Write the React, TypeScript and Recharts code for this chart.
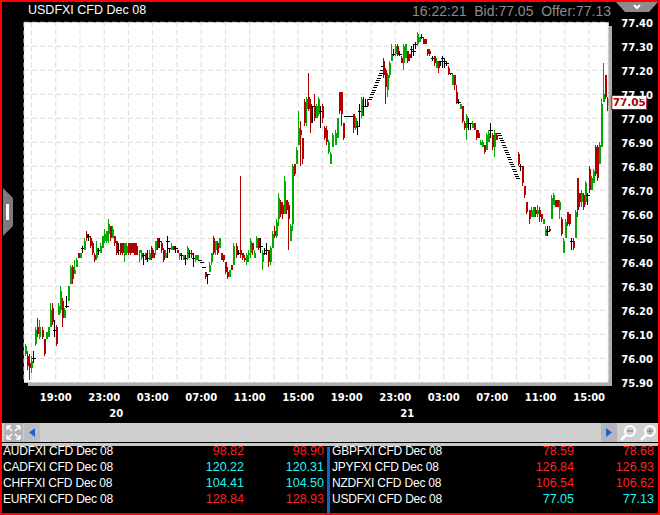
import React from 'react';
import { ComposedChart, Bar, XAxis, YAxis, CartesianGrid, ReferenceDot } from 'recharts';

// one slot = 10 minutes, counted from midnight of the 19th
type Ohlc = [number, number, number, number] | null;
const d = (p: number): Ohlc => [p, p, p, p];

const bars1620: Ohlc[] = [
  [76.02,76.06,76.01,76.05],[76.01,76.03,75.95,75.97],[75.98,76.02,75.91,75.96],[75.96,76.01,75.94,75.99],[76.00,76.03,75.98,76.00],
  [76.06,76.13,76.05,76.12],[76.13,76.17,76.09,76.10],[76.09,76.16,76.08,76.13],[76.12,76.13,76.08,76.09],[76.08,76.08,76.01,76.02],
  [76.08,76.11,76.08,76.11],[76.09,76.13,76.09,76.13],[76.13,76.23,76.13,76.20],[76.21,76.23,76.14,76.15],[76.12,76.16,76.09,76.12],
];
const bars1900: Ohlc[] = [
  [76.13,76.14,76.05,76.06],[76.18,76.23,76.18,76.22],[76.20,76.30,76.19,76.28],[76.24,76.25,76.13,76.17],[76.17,76.21,76.17,76.20],
  [76.22,76.26,76.21,76.22],[76.24,76.30,76.24,76.30],[76.31,76.39,76.31,76.38],[76.38,76.39,76.31,76.33],[76.35,76.41,76.35,76.37],
  [76.38,76.42,76.38,76.41],[76.44,76.44,76.42,76.42],[76.42,76.44,76.42,76.44],[76.46,76.47,76.44,76.46],[76.45,76.50,76.45,76.49],
  [76.52,76.53,76.49,76.50],[76.51,76.52,76.49,76.51],[76.50,76.51,76.46,76.47],[76.48,76.49,76.43,76.44],[76.43,76.44,76.40,76.41],
  [76.42,76.49,76.41,76.46],[76.45,76.46,76.43,76.45],[76.44,76.48,76.44,76.47],[76.46,76.51,76.46,76.51],
];
const bars2300: Ohlc[] = [
  [76.49,76.54,76.48,76.52],[76.49,76.53,76.48,76.53],[76.52,76.58,76.48,76.56],[76.55,76.55,76.49,76.50],[76.50,76.55,76.50,76.54],
  [76.51,76.51,76.47,76.48],[76.49,76.49,76.43,76.44],[76.45,76.48,76.43,76.45],[76.48,76.48,76.43,76.44],[76.48,76.48,76.43,76.44],
  [76.43,76.48,76.40,76.48],[76.44,76.48,76.43,76.47],[76.48,76.48,76.43,76.44],[76.48,76.48,76.43,76.44],[76.48,76.48,76.44,76.44],
  [76.48,76.48,76.43,76.43],[76.47,76.48,76.43,76.43],[76.44,76.45,76.40,76.45],[76.42,76.45,76.41,76.44],[76.43,76.44,76.39,76.43],
  [76.44,76.44,76.41,76.41],[76.42,76.45,76.40,76.42],[76.41,76.45,76.41,76.44],[76.46,76.47,76.41,76.42],
];
const bars0300: Ohlc[] = [
  [76.44,76.45,76.42,76.42],[76.45,76.49,76.43,76.49],[76.50,76.50,76.45,76.46],[76.49,76.50,76.46,76.49],[76.48,76.49,76.44,76.45],
  [76.45,76.46,76.40,76.41],[76.42,76.45,76.42,76.44],[76.49,76.51,76.42,76.49],[76.46,76.46,76.44,76.46],[76.45,76.48,76.45,76.47],
  [76.47,76.47,76.45,76.45],[76.46,76.47,76.44,76.46],[76.45,76.45,76.44,76.44],[76.43,76.44,76.41,76.44],[76.43,76.44,76.41,76.43],
  [76.41,76.43,76.41,76.43],[76.42,76.43,76.39,76.42],[76.42,76.47,76.41,76.46],[76.44,76.45,76.42,76.44],[76.44,76.45,76.42,76.43],
  [76.42,76.44,76.38,76.42],[76.41,76.43,76.40,76.43],[76.41,76.43,76.41,76.43],d(76.41),
];
const bars0700: Ohlc[] = [
  d(76.40),d(76.38),[76.36,76.36,76.33,76.34],[76.35,76.35,76.31,76.35],[76.36,76.40,76.36,76.39],
  [76.40,76.44,76.39,76.44],[76.50,76.51,76.43,76.44],[76.45,76.49,76.43,76.49],[76.48,76.49,76.43,76.44],[76.46,76.50,76.46,76.50],
  [76.44,76.44,76.41,76.41],[76.43,76.43,76.40,76.41],[76.40,76.40,76.35,76.36],[76.36,76.38,76.33,76.34],[76.34,76.37,76.34,76.37],
  [76.39,76.39,76.37,76.37],[76.39,76.48,76.39,76.47],[76.47,76.48,76.42,76.43],[76.44,76.45,76.43,76.44],[76.45,76.76,76.42,76.43],
  [76.44,76.44,76.41,76.42],[76.42,76.43,76.40,76.41],[76.40,76.44,76.39,76.43],[76.43,76.45,76.40,76.44],
];
const bars1100: Ohlc[] = [
  [76.44,76.50,76.42,76.49],[76.48,76.48,76.43,76.45],[76.42,76.45,76.42,76.44],[76.46,76.51,76.46,76.50],[76.50,76.50,76.45,76.46],
  [76.47,76.50,76.44,76.47],[76.40,76.45,76.37,76.44],[76.44,76.46,76.43,76.44],[76.45,76.48,76.43,76.45],[76.45,76.45,76.38,76.40],
  [76.40,76.47,76.39,76.46],[76.46,76.53,76.46,76.52],[76.53,76.55,76.50,76.51],[76.51,76.58,76.50,76.57],[76.58,76.69,76.55,76.67],
  [76.65,76.66,76.59,76.60],[76.64,76.65,76.58,76.60],[76.60,76.76,76.60,76.74],[76.66,76.66,76.60,76.62],[76.64,76.65,76.45,76.58],
  [76.49,76.56,76.49,76.55],[76.56,76.81,76.53,76.80],[76.81,76.81,76.76,76.77],[76.81,76.88,76.81,76.87],
];
const bars1500: Ohlc[] = [
  [76.89,77.03,76.89,76.96],[76.95,76.99,76.80,76.93],[76.92,76.92,76.81,76.83],[77.07,77.08,76.97,76.98],[77.04,77.09,76.97,77.08],
  [77.09,77.19,77.03,77.04],[77.06,77.08,76.94,76.98],[77.05,77.05,76.98,77.05],[77.05,77.10,76.99,77.00],[77.00,77.06,77.00,77.05],
  [77.02,77.09,77.01,77.08],[77.03,77.05,76.96,77.03],[77.05,77.06,76.98,77.00],[76.96,76.97,76.91,76.92],[76.95,76.97,76.89,76.90],
  [76.86,76.91,76.85,76.90],[76.81,76.86,76.81,76.85],[76.88,76.94,76.88,76.93],[76.89,76.95,76.89,76.94],[76.92,77.00,76.92,77.00],
  [77.11,77.11,77.02,77.03],[77.11,77.11,76.97,77.02],[76.98,76.98,76.91,76.92],d(77.01),
];
const bars1900b: Ohlc[] = [
  d(77.01),d(77.01),d(77.01),[77.02,77.02,76.94,76.96],[76.96,77.01,76.95,77.00],
  [76.97,76.99,76.93,76.97],[77.03,77.06,76.97,77.03],[77.01,77.09,77.00,77.08],[77.05,77.09,77.01,77.05],[77.05,77.08,77.05,77.05],
  [77.07,77.08,77.05,77.05],null,null,null,null,
  null,null,null,[77.24,77.25,77.17,77.18],[77.20,77.21,77.06,77.13],
  [77.12,77.19,77.09,77.18],[77.18,77.24,77.17,77.23],[77.24,77.31,77.24,77.27],[77.27,77.29,77.26,77.27],
];
const bars2300b: Ohlc[] = [
  [77.27,77.31,77.26,77.30],[77.30,77.31,77.26,77.27],[77.27,77.28,77.26,77.27],[77.25,77.26,77.23,77.23],[77.23,77.31,77.20,77.30],
  [77.25,77.31,77.25,77.31],[77.28,77.28,77.23,77.24],[77.27,77.27,77.24,77.25],[77.29,77.30,77.25,77.29],[77.28,77.31,77.26,77.28],
  [77.31,77.32,77.29,77.31],[77.31,77.36,77.30,77.35],[77.32,77.34,77.32,77.34],[77.34,77.35,77.33,77.34],[77.33,77.34,77.31,77.31],
  [77.33,77.33,77.31,77.31],[77.29,77.29,77.26,77.27],[77.28,77.29,77.26,77.27],[77.25,77.26,77.24,77.25],[77.26,77.26,77.22,77.23],
  [77.21,77.25,77.21,77.24],[77.24,77.24,77.19,77.21],[77.24,77.24,77.22,77.24],[77.25,77.26,77.21,77.25],
];
const bars0300b: Ohlc[] = [
  [77.24,77.25,77.21,77.24],[77.23,77.24,77.22,77.23],[77.21,77.22,77.18,77.19],[77.19,77.19,77.18,77.19],[77.14,77.19,77.14,77.18],
  [77.18,77.18,77.12,77.14],[77.11,77.14,77.06,77.07],[77.07,77.08,77.06,77.07],[77.04,77.06,77.04,77.06],[77.05,77.05,76.98,76.99],
  [76.98,76.99,76.95,76.96],[76.96,77.02,76.91,77.01],[76.98,77.00,76.95,76.98],[76.98,76.98,76.95,76.98],[76.96,76.99,76.96,76.98],
  [76.98,76.98,76.95,76.95],[76.95,76.95,76.91,76.92],[76.94,76.95,76.92,76.92],[76.89,76.91,76.89,76.90],[76.88,76.91,76.88,76.90],
  [76.89,76.89,76.85,76.86],[76.87,76.94,76.87,76.93],[76.90,76.95,76.90,76.94],[76.95,76.98,76.92,76.95],
];
const bars0700b: Ohlc[] = [
  [76.93,76.94,76.87,76.88],[76.88,76.95,76.84,76.94],[76.93,76.94,76.91,76.91],null,null,
  null,null,null,null,null,
  null,null,null,[76.85,76.86,76.80,76.81],[76.80,76.81,76.78,76.80],
  [76.80,76.80,76.72,76.73],[76.72,76.72,76.67,76.68],[76.65,76.65,76.60,76.61],[76.62,76.62,76.56,76.58],[76.59,76.63,76.59,76.62],
  [76.59,76.63,76.59,76.63],[76.62,76.63,76.59,76.60],[76.60,76.64,76.59,76.62],[76.62,76.63,76.57,76.59],
];
const bars1100b: Ohlc[] = [
  [76.60,76.60,76.57,76.58],[76.56,76.58,76.56,76.58],[76.51,76.55,76.51,76.54],[76.53,76.55,76.51,76.53],[76.54,76.55,76.53,76.53],
  [76.58,76.68,76.58,76.67],[76.64,76.69,76.64,76.68],[76.66,76.66,76.63,76.63],[76.66,76.66,76.63,76.63],[76.62,76.66,76.58,76.65],
  [76.58,76.59,76.51,76.52],[76.44,76.50,76.44,76.49],[76.50,76.58,76.50,76.57],[76.61,76.61,76.55,76.56],[76.60,76.60,76.55,76.56],
  [76.49,76.50,76.45,76.49],[76.49,76.50,76.45,76.46],[76.50,76.62,76.50,76.61],[76.75,76.75,76.59,76.62],[76.69,76.69,76.63,76.65],
  [76.65,76.70,76.63,76.69],[76.68,76.69,76.62,76.63],[76.65,76.74,76.64,76.73],[76.68,76.69,76.64,76.68],
];
const bars1500b: Ohlc[] = [
  [76.79,76.80,76.69,76.70],[76.70,76.76,76.70,76.75],[76.73,76.79,76.73,76.78],[76.88,76.89,76.76,76.77],[76.88,76.89,76.74,76.75],
  [76.81,76.90,76.81,76.89],[76.88,77.08,76.88,77.06],[77.07,77.23,77.07,77.10],[77.18,77.18,77.08,77.09],[77.08,77.09,77.03,77.05],
];

const sessionStarts = [99, 114, 138, 162, 186, 210, 234, 258, 282, 306, 330, 354, 378];
const sessions = [bars1620, bars1900, bars2300, bars0300, bars0700, bars1100, bars1500, bars1900b, bars2300b, bars0300b, bars0700b, bars1100b, bars1500b];

// the thin black stairs where the feed had no trades
const stairSlotsA = [269, 269.5, 270, 270.5, 271, 271.5, 272, 272.5, 273, 273.5, 274, 274.5, 275, 275.5];
const stairPricesA = [77.08, 77.09, 77.10, 77.11, 77.12, 77.13, 77.14, 77.15, 77.16, 77.17, 77.18, 77.19, 77.20, 77.22];
const stairSlotsB = [333, 333.5, 334, 334.5, 335, 335.5, 336, 336.5, 337, 337.5, 338, 338.5, 339, 339.5, 340, 340.5, 341, 341.5, 342, 342.5];
const stairPricesB = [76.94, 76.93, 76.92, 76.91, 76.90, 76.89, 76.88, 76.87, 76.86, 76.85, 76.84, 76.83, 76.82, 76.81, 76.80, 76.79, 76.78, 76.77, 76.76, 76.75];

const priceTicks = [75.9, 76.0, 76.1, 76.2, 76.3, 76.4, 76.5, 76.6, 76.7, 76.8, 76.9, 77.0, 77.1, 77.2, 77.3, 77.4];
const timeTicks = [102, 114, 126, 138, 150, 162, 174, 186, 198, 210, 222, 234, 246, 258, 270, 282, 294, 306, 318, 330, 342, 354, 366, 378];
const timeLabels = ['', '19:00', '', '23:00', '', '03:00', '', '07:00', '', '11:00', '', '15:00', '', '19:00', '', '23:00', '', '03:00', '', '07:00', '', '11:00', '', '15:00'];
const dayTicks = [144, 288];
const dayLabels = ['20', '21'];

const quoteNamesLeft = ['AUDFXI CFD Dec 08', 'CADFXI CFD Dec 08', 'CHFFXI CFD Dec 08', 'EURFXI CFD Dec 08'];
const quoteBidsLeft = ['98.82', '120.22', '104.41', '128.84'];
const quoteOffersLeft = ['98.90', '120.31', '104.50', '128.93'];
const quoteUpLeft = [false, true, true, false];
const quoteNamesRight = ['GBPFXI CFD Dec 08', 'JPYFXI CFD Dec 08', 'NZDFXI CFD Dec 08', 'USDFXI CFD Dec 08'];
const quoteBidsRight = ['78.59', '126.84', '106.54', '77.05'];
const quoteOffersRight = ['78.68', '126.93', '106.62', '77.13'];
const quoteUpRight = [false, false, false, true];

const rows: any[] = [];
sessions.forEach((list, s) => {
  list.forEach((b, i) => {
    if (b) rows.push({ slot: sessionStarts[s] + i, open: b[0], high: b[1], low: b[2], close: b[3] });
  });
});
stairSlotsA.forEach((slot, i) => rows.push({ slot, open: stairPricesA[i], high: stairPricesA[i], low: stairPricesA[i], close: stairPricesA[i] }));
stairSlotsB.forEach((slot, i) => rows.push({ slot, open: stairPricesB[i], high: stairPricesB[i], low: stairPricesB[i], close: stairPricesB[i] }));
rows.sort((a, b) => a.slot - b.slot);

const GREEN = '#00aa00';
const RED = '#b00000';
const xDomain: [number, number] = [98.31, 387.46];

const Candle = (props: any) => {
  const { x, y, width, height, payload } = props;
  const { open, high, low, close } = payload;
  const cx = Math.round(x + width / 2);
  const top = y;
  const perPrice = high > low ? height / (high - low) : 0;
  if (open === close) {
    const yc = Math.round(top + (high - open) * perPrice);
    return (
      <g shapeRendering="crispEdges">
        {height > 0 && <rect x={cx} y={top} width={1} height={height} fill="#000" />}
        <rect x={cx - 1} y={yc} width={4} height={1} fill="#000" />
      </g>
    );
  }
  const color = close > open ? GREEN : RED;
  const bodyTop = top + (high - Math.max(open, close)) * perPrice;
  const bodyH = Math.abs(open - close) * perPrice;
  return (
    <g shapeRendering="crispEdges">
      <rect x={cx} y={top} width={1} height={height} fill={color} />
      <rect x={cx} y={bodyTop} width={2} height={bodyH} fill={color} />
    </g>
  );
};

const PriceFlag = (props: any) => (
  <g>
    <rect x={props.cx + 3.5} y={props.cy - 7} width={35} height={14} fill="#fff" stroke="#b00000" strokeWidth={1} />
    <text x={props.cx + 21} y={props.cy + 4} textAnchor="middle" fill="#b00000" fontSize={10.5} fontWeight="bold" fontFamily="DejaVu Sans">77.05</text>
  </g>
);

const abs = (left: number, top: number, width: number, height: number, extra: React.CSSProperties = {}): React.CSSProperties => ({
  position: 'absolute', left, top, width, height, ...extra,
});

const QuoteRows = ({ names, bids, offers, up, nameX, bidRight, offerRight }: any) => (
  <>
    {names.map((name: string, i: number) => {
      const top = 445 + i * 16;
      const color = up[i] ? '#20f4f4' : '#ff2222';
      const text: React.CSSProperties = { position: 'absolute', top, height: 13, lineHeight: '13px', whiteSpace: 'nowrap' };
      return (
        <React.Fragment key={name}>
          <div style={{ ...text, left: nameX, color: '#fff', fontSize: 12, letterSpacing: -0.2 }}>{name}</div>
          <div style={{ ...text, left: bidRight - 60, width: 60, textAlign: 'right', color, fontSize: 12.5 }}>{bids[i]}</div>
          <div style={{ ...text, left: offerRight - 60, width: 60, textAlign: 'right', color, fontSize: 12.5 }}>{offers[i]}</div>
        </React.Fragment>
      );
    })}
  </>
);

const App = () => (
  <div style={abs(0, 0, 660, 515, { background: '#000', overflow: 'hidden', fontFamily: '"Liberation Sans", sans-serif', fontSize: 13 })}>
    <div style={abs(28, 26, 583.7, 360, { background: '#adadad' })} />
    <div style={abs(28, 2, 200, 16, { color: '#fff', fontSize: 12.5, lineHeight: '16px', whiteSpace: 'nowrap' })}>USDFXI CFD Dec 08</div>
    <div style={abs(400, 3, 211, 16, { color: '#8c8c8c', fontSize: 14, lineHeight: '16px', textAlign: 'right', whiteSpace: 'nowrap' })}>16:22:21&nbsp;&nbsp;Bid:77.05&nbsp;&nbsp;Offer:77.13</div>

    <div style={abs(0, 0, 660, 425)}>
      <ComposedChart width={660} height={425} data={rows} margin={{ top: 22.3, left: 24, right: 6.7, bottom: 10.7 }} barGap={0}>
        <CartesianGrid fill="#fff" stroke="#dcdcdc" strokeDasharray="5 3" />
        <XAxis
          type="number"
          dataKey="slot"
          domain={xDomain}
          allowDataOverflow
          ticks={timeTicks}
          interval={0}
          height={16}
          axisLine={false}
          tickLine={false}
          tickMargin={6}
          tick={{ fill: '#fff', fontSize: 10, fontWeight: 'bold', fontFamily: 'DejaVu Sans' }}
          tickFormatter={(v: number) => timeLabels[timeTicks.indexOf(v)]}
        />
        <XAxis
          xAxisId="day"
          type="number"
          dataKey="slot"
          domain={xDomain}
          allowDataOverflow
          ticks={dayTicks}
          interval={0}
          height={16}
          axisLine={false}
          tickLine={false}
          tickMargin={6}
          tick={{ fill: '#fff', fontSize: 10, fontWeight: 'bold', fontFamily: 'DejaVu Sans' }}
          tickFormatter={(v: number) => dayLabels[dayTicks.indexOf(v)]}
        />
        <YAxis
          orientation="right"
          type="number"
          domain={[75.9, 77.4]}
          allowDataOverflow
          ticks={priceTicks}
          interval={0}
          width={45}
          axisLine={false}
          tickLine={false}
          tickMargin={7}
          tick={{ fill: '#fff', fontSize: 10, fontWeight: 'bold', fontFamily: 'DejaVu Sans', textAnchor: 'start', dy: 1 }}
          tickFormatter={(v: number) => v.toFixed(2)}
        />
        <Bar dataKey={(r: any) => [r.low, r.high]} barSize={3} shape={<Candle />} isAnimationActive={false} />
        <ReferenceDot x={xDomain[1]} y={77.066} shape={<PriceFlag />} ifOverflow="visible" />
      </ComposedChart>
    </div>

    {/* side and top tabs */}
    <svg style={abs(0, 0, 660, 515, { pointerEvents: 'none' })}>
      <polygon points="3,188 13,198 13,226 3,236" fill="#7c7c7c" />
      <rect x={6} y={204} width={3} height={16} fill="#fff" />
      <polygon points="616,2 658,2 649,12 625,12" fill="#8c8c8c" />
      <polyline points="634,5 637,8 640,5" fill="none" stroke="#fff" strokeWidth={2} />
    </svg>

    {/* scroll bar */}
    <div style={abs(2, 423, 656, 19, { background: '#cfcfcf' })} />
    <div style={abs(2, 442.5, 656, 3, { background: '#c8c8c8' })} />
    <svg style={abs(0, 420, 660, 24)}>
      <rect x={4} y={3} width={19} height={19} fill="#b4b4b4" />
      <path d="M7 6 L11 6 M7 6 L7 10 M7 6 L12 11 M20 6 L16 6 M20 6 L20 10 M20 6 L15 11 M7 19 L11 19 M7 19 L7 15 M7 19 L12 14 M20 19 L16 19 M20 19 L20 15 M20 19 L15 14" stroke="#fff" strokeWidth={1.5} fill="none" />
      <rect x={24} y={3} width={16} height={19} fill="#bdbdc4" />
      <polygon points="29,12.5 35,8 35,17" fill="#2060d0" />
      <rect x={601} y={3} width={16} height={19} fill="#b4b4bc" />
      <polygon points="612,12.5 606,8 606,17" fill="#2060d0" />
      <rect x={618} y={3} width={40} height={19} fill="#cfcfcf" />
      <circle cx={630} cy={11} r={5} fill="none" stroke="#fff" strokeWidth={2} />
      <path d="M626 15 L621 20" stroke="#fff" strokeWidth={2.5} />
      <path d="M627 11 L633 11" stroke="#777" strokeWidth={1} />
      <circle cx={650} cy={11} r={5} fill="none" stroke="#fff" strokeWidth={2} />
      <path d="M646 15 L641 20" stroke="#fff" strokeWidth={2.5} />
      <path d="M647 11 L653 11 M650 8 L650 14" stroke="#777" strokeWidth={1} />
    </svg>

    {/* quote table */}
    <QuoteRows names={quoteNamesLeft} bids={quoteBidsLeft} offers={quoteOffersLeft} up={quoteUpLeft} nameX={3} bidRight={244} offerRight={324} />
    <QuoteRows names={quoteNamesRight} bids={quoteBidsRight} offers={quoteOffersRight} up={quoteUpRight} nameX={332} bidRight={574} offerRight={654} />
    <div style={abs(327, 447, 3, 66, { background: '#1a5fd0' })} />

    <div style={abs(0, 0, 660, 515, { boxSizing: 'border-box', border: '2px solid #ff0000', pointerEvents: 'none' })} />
  </div>
);

export default App;
